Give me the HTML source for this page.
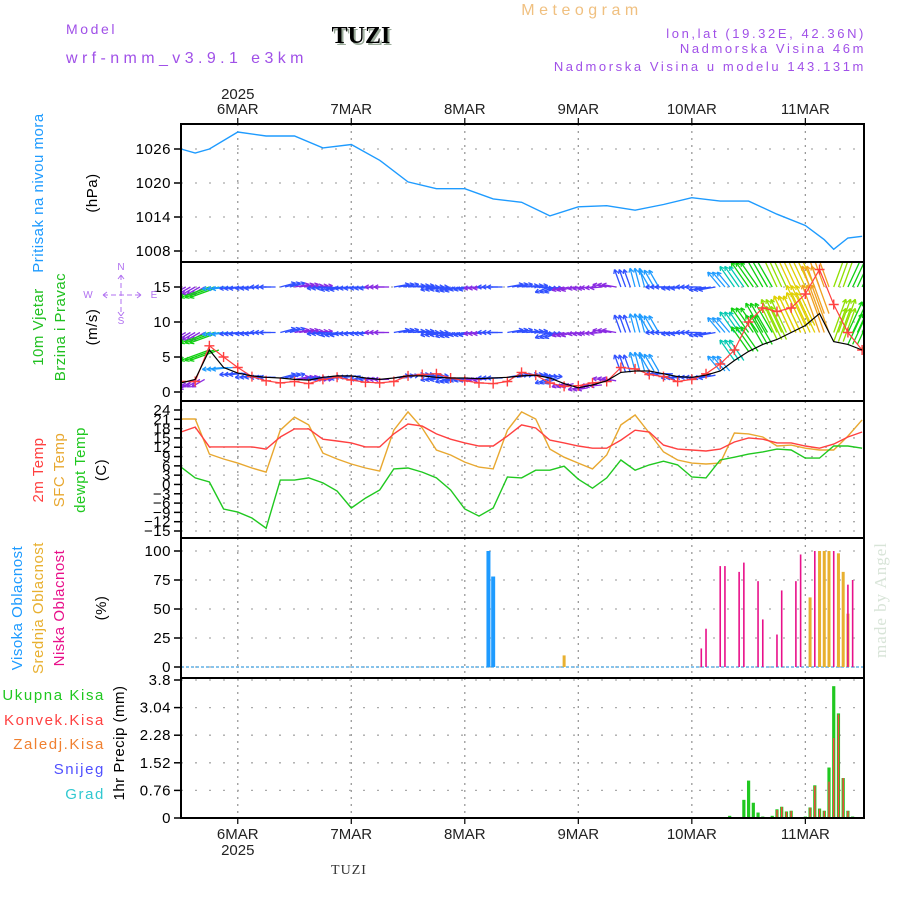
<!DOCTYPE html>
<html><head><meta charset="utf-8"><style>
html,body{margin:0;padding:0;background:#fff;}
svg{display:block;font-family:"Liberation Sans",sans-serif;}
</style></head><body>
<svg id="c" width="900" height="900" viewBox="0 0 900 900" xmlns="http://www.w3.org/2000/svg">
<defs><clipPath id="wclip"><rect x="181" y="262" width="683" height="139"/></clipPath></defs>
<rect width="900" height="900" fill="#fff"/>
<text x="582" y="15" font-size="16" fill="#f0c080" text-anchor="middle" letter-spacing="4.5">Meteogram</text>
<text x="66" y="34" font-size="14" fill="#a050e8" letter-spacing="2.6">Model</text>
<text x="66" y="63" font-size="16" fill="#a050e8" letter-spacing="4.4">wrf-nmm_v3.9.1 e3km</text>
<text x="363" y="45" font-size="24" font-weight="bold" font-family="Liberation Serif,serif" fill="#9a9" text-anchor="middle">TUZI</text>
<text x="361" y="43" font-size="24" font-weight="bold" font-family="Liberation Serif,serif" fill="#000" text-anchor="middle">TUZI</text>
<text x="866" y="38" font-size="13" fill="#a050e8" text-anchor="end" letter-spacing="2.6">lon,lat (19.32E, 42.36N)</text>
<text x="866" y="53" font-size="13" fill="#a050e8" text-anchor="end" letter-spacing="2.6">Nadmorska Visina 46m</text>
<text x="866" y="71" font-size="13" fill="#a050e8" text-anchor="end" letter-spacing="2.6">Nadmorska Visina u modelu 143.131m</text>
<text x="349" y="874" font-size="14" font-family="Liberation Serif,serif" fill="#333" text-anchor="middle" letter-spacing="1">TUZI</text>
<text transform="translate(886,600) rotate(-90)" font-size="17" font-family="Liberation Serif,serif" fill="#d8e4d8" text-anchor="middle" letter-spacing="1">made by Angel</text>
<g id="g"></g>
</svg>
<script>
// ---- data (3-hourly, hours from 5 Mar 12 UTC) ----
const hours3 = [0,3,6,9,12,15,18,21,24,27,30,33,36,39,42,45,48,51,54,57,60,63,66,69,72,75,78,81,84,87,90,93,96,99,102,105,108,111,114,117,120,123,126,129,132,135,138,141,144];
const dayLabels = ["6MAR","7MAR","8MAR","9MAR","10MAR","11MAR"];
const dayHours = [12,36,60,84,108,132];
const pressHours = [0,3,6,12,18,24,30,36,42,48,54,60,66,72,78,84,90,96,102,108,114,120,126,132,136,138,141,144];
const pressure = [1026,1025.3,1026,1029,1028.3,1028.3,1026.2,1026.8,1024,1020.2,1019,1019,1017.2,1016.6,1014.2,1015.8,1016,1015.2,1016.2,1017.4,1016.8,1016.8,1014.5,1012.5,1010,1008.3,1010.3,1010.6];
const pressTicks = [1008,1014,1020,1026];
const windSpeed = [1.3,1.8,6,3.5,2.7,2.3,2.1,2,1.8,1.7,2.1,2.3,2.3,2,1.8,2,2.3,2.3,2.1,2,2,1.9,2,2.1,2.3,2.4,2,1.2,0.6,1,1.6,2.8,3,3,2.6,2.2,2.1,2.4,3,4.5,5.8,6.8,7.5,8.5,9.5,11.2,7.2,6.8,6];
const windGust = [1.5,1.5,6.6,5,3.5,2.2,1.6,1.3,1.5,1.2,1.8,2.1,1.7,1.4,1.3,1.5,2.3,2.5,2.6,2,1.6,1.3,1.2,1.5,2.8,2.4,1.3,0.8,0.9,1.3,1.5,3.5,3.3,2.5,2.2,1.5,1.8,2.6,4,6,10,12,11.5,12,14,17.5,12.5,8.5,6];
const windDir = [240,240,250,265,265,265,270,75,80,85,265,260,265,265,270,80,85,90,260,255,260,265,270,80,85,95,250,255,260,265,280,340,345,330,270,265,270,260,320,325,325,330,335,335,335,340,20,25,25];
const windTicks = [0,5,10,15];
const t2m = [16.9,18.5,12.1,12.1,12.1,12.1,11.4,15.3,17.9,17.9,14.6,14.0,13.4,12.1,12.1,16.3,19.5,18.8,16.3,14.6,13.4,12.4,12.4,15.6,19.2,18.2,14.3,13.4,12.4,11.7,11.7,14.3,17.5,16.9,12.7,11.4,11.1,10.8,11.4,13.7,15.0,14.6,13.4,13.4,12.4,11.7,13.0,15.3,16.9];
const tSfc = [21.1,21.1,9.8,8.2,6.9,5.3,4.0,17.5,21.7,19.2,10.1,8.2,6.6,5.3,4.3,17.5,23.4,18.2,11.1,9.5,7.2,5.6,5.0,17.5,23.4,21.1,11.4,8.8,6.9,5.0,9.5,19.2,22.4,16.6,10.5,7.9,6.9,6.6,6.9,16.6,16.3,15.3,12.4,12.7,11.7,11.1,11.1,15.6,20.8];
const tDew = [5.6,2.1,0.8,-7.9,-8.9,-10.8,-14.1,1.4,1.4,2.1,0.5,-2.1,-7.6,-4.4,-1.8,5.0,5.3,4.0,2.1,-1.8,-7.9,-10.2,-7.6,2.4,2.1,4.6,4.6,5.9,1.7,-1.2,2.1,7.9,4.6,6.3,7.5,6.3,2.4,2.1,7.9,8.8,9.8,10.5,11.4,11.1,8.5,8.5,12.4,12.4,11.7];
const tempTicks = [24,21,18,15,12,9,6,3,0,-3,-6,-9,-12,-15];
const highCloudHours = [65,66];
const highCloud = [100,78];
const midCloudHours = [81,133,135,136,137,139,140,141];
const midCloud = [10,60,100,100,100,98,82,46];
const lowCloudHours = [110,111,114,115,118,119,122,123,126,127,130,131,134,138,141,142];
const lowCloud = [16,33,87,87,82,90,74,41,28,66,74,97,100,100,71,75];
const cloudTicks = [0,25,50,75,100];
const precipHours = [116,119,120,121,122,123,125,126,127,128,129,132,133,134,135,136,137,138,139,140,141,142];
const precipTotal = [0.06,0.5,1.03,0.42,0.15,0.04,0.06,0.24,0.31,0.18,0.2,0.04,0.29,0.9,0.26,0.2,1.39,3.63,2.88,1.1,0.2,0.04];
const precipConv = [0,0,0,0,0,0,0,0.22,0.3,0.17,0.19,0,0.28,0.88,0.24,0.19,1.0,2.2,2.85,1.1,0.19,0];
const precipTicks = [0,0.76,1.52,2.28,3.04,3.8];

// ---- scales ----
const X0=181, X1=864, HMAX=144.4;
const xS = h => X0 + h*(X1-X0)/HMAX;
const yP = p => 149 + (1026-p)*34/6;
const yW = v => 392 - v*7;
const yT = t => 410 + (24-t)*121/39;
const yC = c => 667 - c*1.16;
const yR = r => 818 - r*138/3.8;
const panels = [[124,262],[262,401],[401,538],[538,678],[678,818]];

const NS="http://www.w3.org/2000/svg";
const G=document.getElementById('g');
function mk(tag, attrs, parent){
  const e=document.createElementNS(NS,tag);
  for(const k in attrs) e.setAttribute(k,attrs[k]);
  (parent||G).appendChild(e); return e;
}
function txt(x,y,s,size,fill,anchor,rot){
  const e=mk('text',{x:x,y:y,'font-size':size,fill:fill,'text-anchor':anchor||'middle'});
  if(rot) e.setAttribute('transform','rotate(-90 '+x+' '+y+')');
  e.textContent=s; return e;
}
function poly(hs, vs, ys, color, w, parent){
  let d=''; hs.forEach((h,i)=>{d+=(i?'L':'M')+xS(h).toFixed(1)+','+ys(vs[i]).toFixed(1);});
  return mk('path',{d:d,fill:'none',stroke:color,'stroke-width':w||1.3},parent);
}

// ---- grid ----
panels.forEach((p,pi)=>{
  dayHours.forEach(h=>{
    const l=mk('line',{x1:xS(h),x2:xS(h),y1:p[0],y2:p[1],stroke:'#999','stroke-width':1.3,'stroke-dasharray':'2,5'});
    
    
  });
});
function hgrid(vals, ys){
  vals.forEach(v=>{
    const l=mk('line',{x1:X0,x2:X1,y1:ys(v),y2:ys(v),stroke:'#aaa','stroke-width':1.3,'stroke-dasharray':'2,12'});
    
    
  });
}
hgrid(pressTicks,yP); hgrid(windTicks,yW); hgrid(tempTicks,yT); hgrid(cloudTicks,yC); hgrid(precipTicks,yR);

// ---- tick labels ----
function yticks(vals, ys, fmt){
  vals.forEach(v=>{
    const y=ys(v);
    mk('line',{x1:X0-7,x2:X0,y1:y,y2:y,stroke:'#000','stroke-width':1.5});
    const t=txt(X0-10,y+5,fmt?fmt(v):String(v),15,'#000','end');
    t.setAttribute('letter-spacing','0.5');
    
    
  });
}
yticks(pressTicks,yP); yticks(windTicks,yW);
yticks(tempTicks,yT,v=>v<0?'\u2212'+(-v):String(v));
yticks(cloudTicks,yC); yticks(precipTicks,yR,v=>v===0?'0':(v===3.8?'3.8':v.toFixed(2)));

dayHours.forEach((h,i)=>{
  const x=xS(h);
  mk('line',{x1:x,x2:x,y1:118,y2:124,stroke:'#000','stroke-width':1.2});
  mk('line',{x1:x,x2:x,y1:818,y2:824,stroke:'#000','stroke-width':1.2});
  const a=txt(x,114,dayLabels[i],15,'#222');
  
  
  const b=txt(x,839,dayLabels[i],15,'#222');
  
  
});
const y1=txt(xS(12),99,'2025',15,'#222');


const y2=txt(xS(12),855,'2025',15,'#222');



// ---- pressure ----
const pl=poly(pressHours,pressure,yP,'#1e9bff',1.4);



// ---- wind ----
const WG=mk('g',{'clip-path':'url(#wclip)'});


function wcol(s){
  if(s<2) return '#8a2be2'; if(s<3) return '#3050ff'; if(s<4.5) return '#1e9bff';
  if(s<5.5) return '#00c8b0'; if(s<7) return '#10d010'; if(s<8.5) return '#90e000';
  if(s<10) return '#e0d000'; if(s<12) return '#f0a020'; return '#ff2080';
}
function arrow(x,y,dir,s,name){
  const L=8+s*3.8, r=dir*Math.PI/180;
  const ex=x+L*Math.sin(r), ey=y-L*Math.cos(r);
  const c=wcol(s);
  const g=mk('g',{stroke:c,'stroke-width':1.3,fill:'none'},WG);
  
  
  mk('line',{x1:x,y1:y,x2:ex,y2:ey},g);
  const hl=4.5;
  [0.5,-0.5].forEach(o=>{
    const a=r+Math.PI+o;
    mk('line',{x1:ex,y1:ey,x2:ex+hl*Math.sin(a),y2:ey-hl*Math.cos(a)},g);
  });
}
hours3.forEach((h,i)=>{
  const s=windSpeed[i];
  [0,1,2].forEach(o=>{
    const x=xS(h+o);
    arrow(x,yW(15),windDir[i],s,'wind-arrow-upper');
    arrow(x,yW(8.5),windDir[i],s,'wind-arrow-middle');
    arrow(x,yW(s),windDir[i],s,'wind-arrow-surface');
  });
});
const gl=poly(hours3,windGust,yW,'#ff4040',1.2,WG);


hours3.forEach((h,i)=>{
  const x=xS(h), y=yW(windGust[i]);
  const m=mk('path',{d:`M${x-5},${y}H${x+5}M${x},${y-5}V${y+5}`,stroke:'#ff4040','stroke-width':1.4},WG);
  
  
});
const sl=poly(hours3,windSpeed,yW,'#000',1.2,WG);



// ---- temperatures ----
const l1=poly(hours3,tSfc,yT,'#e8a830',1.4);


const l2=poly(hours3,t2m,yT,'#ff4040',1.4);


const l3=poly(hours3,tDew,yT,'#20c820',1.4);



// ---- clouds ----
const cb=mk('line',{x1:X0,x2:X1,y1:yC(0),y2:yC(0),stroke:'#40a0e0','stroke-width':1.2,'stroke-dasharray':'3,2'});


function bars(hs,vs,ys,color,w,name){
  hs.forEach((h,i)=>{
    const y=ys(vs[i]), y0=ys(0);
    const r=mk('rect',{x:xS(h)-w/2,y:y,width:w,height:y0-y,fill:color});
    
    
  });
}
bars(highCloudHours,highCloud,yC,'#1e9bff',4,'high-cloud-bar');
bars(midCloudHours,midCloud,yC,'#e8b030',3,'mid-cloud-bar');
bars(lowCloudHours,lowCloud,yC,'#e8108a',1.6,'low-cloud-bar');

// ---- precip ----
bars(precipHours,precipTotal,yR,'#20c820',3.2,'total-precip-bar');
bars(precipHours,precipConv,yR,'#ff4040',1.4,'convective-precip-bar');
const pb=mk('line',{x1:X0,x2:X1,y1:818,y2:818,stroke:'#000','stroke-width':2,'stroke-dasharray':'6,3'});



// ---- frames ----
panels.forEach(p=>{
  const r=mk('rect',{x:X0,y:p[0],width:X1-X0,height:p[1]-p[0],fill:'none',stroke:'#000','stroke-width':2});
  
  
});

// ---- axis titles ----
function lab(x,y,s,c,size,name){
  const t=txt(x,y,s,size||15,c,'middle',true);
  t.setAttribute('letter-spacing','0.5');
  
  
}
lab(43,193,'Pritisak na nivou mora','#1e9bff',15,'pressure-title');
lab(97,193,'(hPa)','#000',15,'pressure-unit');
lab(43,327,'10m Vjetar','#20c020',15,'wind-title');
lab(65,327,'Brzina i Pravac','#20c020',15,'wind-title-2');
lab(97,327,'(m/s)','#000',15,'wind-unit');
[['N',121,270],['W',88,298],['E',154,298],['S',121,324]].forEach(a=>{
  const t=txt(a[1],a[2],a[0],10,'#b070f0');
  
  
});
const cp=mk('path',{d:'M103,295H141M121,275V316M103,295l4,-3M103,295l4,3M141,295l-4,-3M141,295l-4,3M121,275l-3,4M121,275l3,4M121,316l-3,-4M121,316l3,-4',stroke:'#b070f0','stroke-width':1,'stroke-dasharray':'5,3',fill:'none'});


lab(43,470,'2m Temp','#ff4040',15,'2m-temp-title');
lab(64,470,'SFC Temp','#e8a830',15,'sfc-temp-title');
lab(85,470,'dewpt Temp','#20c820',15,'dewpt-title');
lab(106,470,'(C)','#000',15,'temp-unit');
lab(22,608,'Visoka Oblacnost','#1e9bff',15,'high-cloud-title');
lab(43,608,'Srednja Oblacnost','#e8b030',15,'mid-cloud-title');
lab(64,608,'Niska Oblacnost','#e8108a',15,'low-cloud-title');
lab(106,608,'(%)','#000',15,'cloud-unit');
lab(124,743,'1hr Precip (mm)','#000',15,'precip-title');
[['Ukupna  Kisa','#20c820',700,'legend-total-rain'],['Konvek.Kisa','#ff4040',725,'legend-convective-rain'],['Zaledj.Kisa','#f08030',749,'legend-freezing-rain'],['Snijeg','#5050ff',774,'legend-snow'],['Grad','#30c8d0',799,'legend-hail']].forEach(a=>{
  const t=txt(105,a[2],a[0],15,a[1],'end');
  t.setAttribute('letter-spacing','1.6');
  
  
});
</script>
</body></html>
